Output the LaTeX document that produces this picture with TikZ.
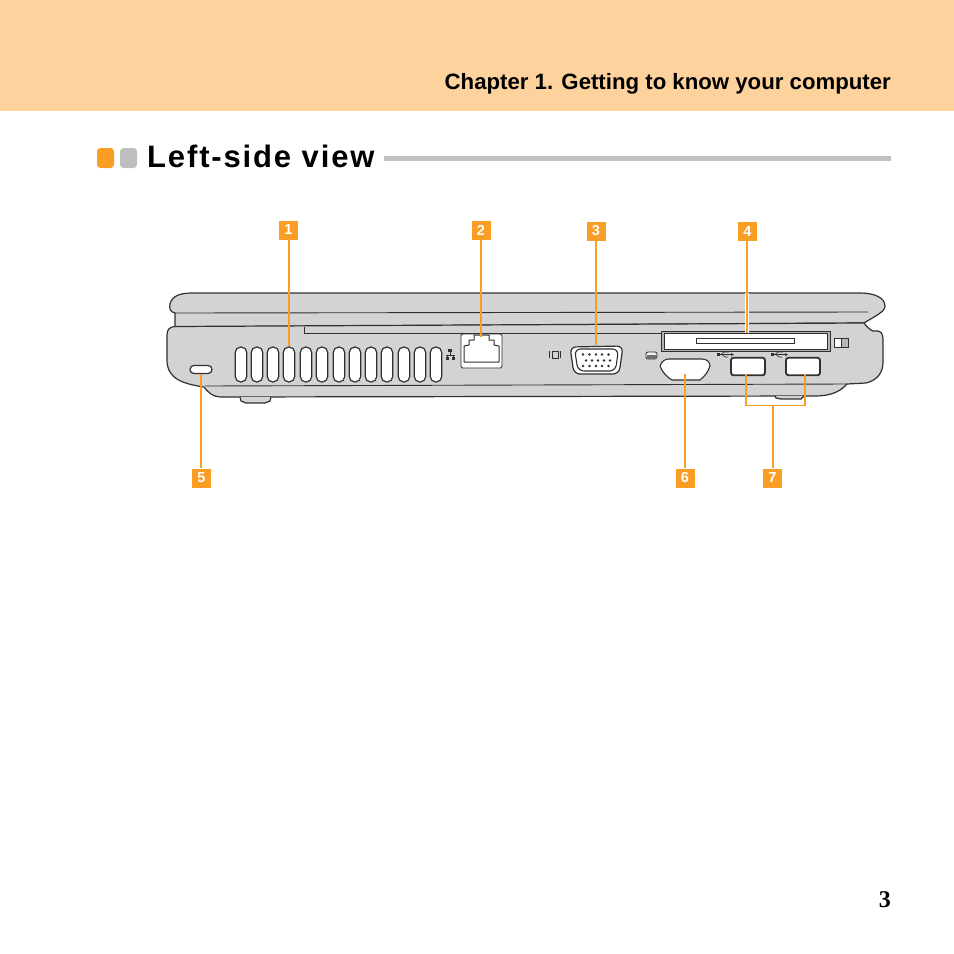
\documentclass[tikz,border=0pt]{standalone}
\usepackage{fontspec}
\setmainfont{Liberation Sans}
\newfontfamily\pagefont{Liberation Serif}
\newfontfamily\titlefont[LetterSpace=6]{Liberation Sans}
\definecolor{band}{HTML}{FDD29D}
\definecolor{accent}{HTML}{F99D25}
\definecolor{body}{HTML}{D1D3D4}
\definecolor{ink}{HTML}{303030}
\tikzset{
  x=1pt,y=-1pt,
  tag/.style={fill=accent,text=white,minimum size=19pt,inner sep=0pt,font=\bfseries\fontsize{14.5}{14.5}\selectfont},
  leader/.style={draw=accent,line width=1.6pt},
  halo/.style={draw=white,line width=4pt},
  edge/.style={draw=ink,line width=1.2pt,line join=round},
  thin edge/.style={draw=ink,line width=0.9pt},
  slot/.style={draw=ink,line width=1.2pt,fill=white,rounded corners=5.5pt},
  port/.style={draw=ink,line width=1.1pt,fill=white,line join=round},
  pin/.style={circle,fill=ink,inner sep=0pt,minimum size=2.6pt},
}
\begin{document}
\begin{tikzpicture}
\useasboundingbox (0,0) rectangle (954,954);
% header
\fill[band] (0,0) rectangle (954,111);
\node[anchor=base east,inner sep=0pt,font=\bfseries\fontsize{22.2}{23}\selectfont] (chapter) at (891,89) {Chapter 1. Getting to know your computer};
% title
\fill[accent,rounded corners=3.5pt] (97,148) rectangle (114,168);
\fill[body!90!black,rounded corners=3.5pt] (120,148) rectangle (137,168);
\node[anchor=base west,inner sep=0pt,font=\titlefont\bfseries\fontsize{31}{31}\selectfont] (title) at (147,167) {Left-side view};
\fill[body!92!black] (384,156) rectangle (891,161);
% laptop lid
\path[edge,fill=body] (175,313) .. controls (170,312) and (169,308) .. (170,304)
  .. controls (172,296) and (180,293) .. (192,293) -- (860,293)
  .. controls (875,293) and (885,298) .. (885,306)
  .. controls (885,312) and (875,316) .. (864,323)
  -- (175,327) -- cycle;
% laptop base
\path[edge,fill=body] (175,326.5) -- (864,323) .. controls (866,326) and (870,330) .. (873,331)
  -- (878,331) .. controls (882,332) and (883,335) .. (883,340)
  -- (883,362) .. controls (883,372) and (878,380) .. (866,383)
  -- (847,384) .. controls (840,392) and (830,396) .. (815,396)
  -- (222,397) .. controls (212,397) and (208,392) .. (204,387)
  .. controls (185,384) and (167,380) .. (167,360)
  -- (167,335) .. controls (167,329) and (170,327) .. (175,326.5) -- cycle;
\draw[thin edge] (175,313) -- (868,312);
\draw[thin edge] (304,327) -- (304,333) -- (663,333);
\draw[thin edge] (205,386) -- (847,384);
% feet
\path[edge,fill=body] (240,397) -- (241,401) -- (246,403) -- (265,403) -- (270,401) -- (271,397);
\path[edge,fill=body] (775,396) -- (776,398) -- (781,399) -- (801,399) -- (804,396);
% lock slot
\node[slot,rounded corners=3.9pt,minimum width=22pt,minimum height=8pt,inner sep=0pt] (lock) at (201,369.5) {};
% vents
\foreach \i/\x in {0/241,1/257,2/273,3/289,4/306,5/322,6/339,7/355,8/371,9/387,10/404,11/420,12/436}{
  \node[slot,minimum width=11.5pt,minimum height=35pt,inner sep=0pt] (vent\i) at (\x,364.5) {};
}
% lan icon
\fill[ink] (448,349) rectangle (452,352);
\draw[ink,line width=.7pt] (450,352) -- (450,355) (446,355) -- (455,355) (447,355) -- (447,358) (453,355) -- (453,358);
\fill[ink] (446,357) rectangle (449,360);
\fill[ink] (452,357) rectangle (455,360);
% lan port
\draw[thin edge,fill=white,rounded corners=1.5pt] (461,334) rectangle (502,368);
\path[draw=ink,line width=1pt,fill=white,line join=round] (464,346) -- (464,362) -- (499,362) -- (499,346) -- (494,345) -- (494,340) -- (489,340) -- (489,335) -- (474,335) -- (474,340) -- (469,340) -- (469,345) -- cycle;
% monitor icon
\draw[ink,line width=.7pt] (549.5,351) -- (549.5,358) (552,351.5) rectangle (558,358) (560,351) -- (560,358);
% VGA
\path[edge,fill=white,rounded corners=6pt] (570,347) -- (623,346) -- (619,374) -- (574,374) -- cycle;
\path[port,rounded corners=6pt] (574.5,349) -- (618.5,349) -- (615.5,371) -- (578,371) -- cycle;
\foreach \x in {583,589.5,596,602,608.5}{\node[pin] at (\x,354.5) {};}
\foreach \x in {586,592,598,604,610}{\node[pin] at (\x,360.5) {};}
\foreach \x in {583,589.5,596,602,608.5}{\node[pin] at (\x,366) {};}
% small oval icon
\path[draw=ink,line width=.8pt,fill=body!30!white,rounded corners=2pt] (646,352) rectangle (657,359);
\fill[ink!70!white] (646.5,355) rectangle (656.5,358.5);
% card slot
\draw[thin edge,fill=body!85!black] (661,331) rectangle (830,351.5);
\path[draw=ink,line width=.6pt,fill=white] (664,333.5) -- (827,333.5) -- (827,349) -- (664,349) -- cycle;
\draw[draw=ink,line width=.8pt,fill=white] (696.5,338) rectangle (794,343);
% switch
\draw[draw=ink,line width=.9pt,fill=white] (834,338) rectangle (848,347);
\fill[ink] (841,338) rectangle (842,347);
\fill[ink!35!white] (842,338.5) rectangle (847.5,346.5);
% serial port
\path[port] (660,366) .. controls (662,361) and (665,359) .. (669,359)
  -- (702,359) .. controls (707,359) and (710,362) .. (710,366)
  .. controls (708,372) and (705,376) .. (700,380)
  -- (672,380) .. controls (667,377) and (662,372) .. (660,366) -- cycle;
% usb icons
\foreach \x in {718,772}{
  \draw[ink,line width=.7pt] (\x,354.5) -- (\x+14,354.5);
  \fill[ink] (\x-1,353) rectangle (\x+2,356);
  \fill[ink] (\x+13,353) -- (\x+16,354.5) -- (\x+13,356) -- cycle;
  \draw[ink,line width=.6pt] (\x+3,354.5) -- (\x+6,352) -- (\x+11,352) (\x+4,354.5) -- (\x+7,357) -- (\x+10,357);
}
% usb ports
\node[slot,line width=1.8pt,rounded corners=2.5pt,minimum width=34pt,minimum height=17.5pt,inner sep=0pt] (usba) at (748,366.5) {};
\node[slot,line width=1.8pt,rounded corners=2.5pt,minimum width=34pt,minimum height=17.5pt,inner sep=0pt] (usbb) at (803,366.5) {};
% named anchor points on the parts
\coordinate (p2) at (481,337);
\coordinate (p3) at (596,345);
\coordinate (p4a) at (747,293);
\coordinate (p4) at (747,333);
\coordinate (p6) at (685,374);
\coordinate (p7a) at (746,374);
\coordinate (p7b) at (805,374);
\coordinate (j7) at (773,405.5);
% tags
\node[tag] (n1) at (288.5,230) {1};
\node[tag] (n2) at (481,230.5) {2};
\node[tag] (n3) at (596,231) {3};
\node[tag] (n4) at (747.5,231.5) {4};
\node[tag] (n5) at (201.5,478) {5};
\node[tag] (n6) at (685,478) {6};
\node[tag] (n7) at (772.5,478) {7};
% leaders
\draw[leader] (n1.south -| vent3.north) -- (vent3.north);
\draw[leader] (n2.south) -- (p2);
\draw[leader] (n3.south) -- (p3);
\draw[halo] (p4a) -- (p4);
\draw[leader] (n4.south -| p4) -- (p4);
\draw[leader] (n5.north -| lock.south) -- (lock.south);
\draw[leader] (n6.north) -- (p6);
\draw[leader] (n7.north -| j7) -- (j7);
\draw[leader] (p7a) -- (p7a |- j7) -- (p7b |- j7) -- (p7b);
% page number
\node[anchor=base east,inner sep=0pt,font=\pagefont\bfseries\fontsize{24}{24}\selectfont] (page) at (891,907) {3};
\end{tikzpicture}
\end{document}
